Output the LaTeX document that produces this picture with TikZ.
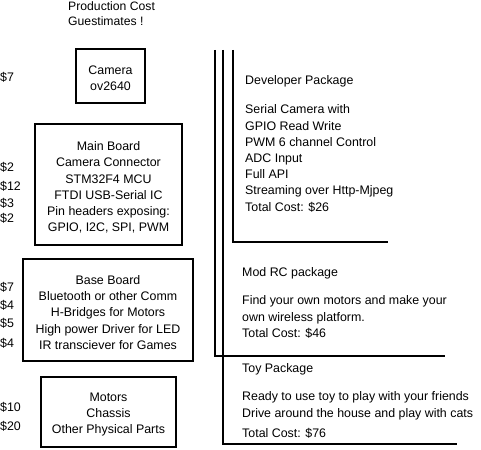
\documentclass[tikz,border=0pt]{standalone}
\usepackage{fontspec}
\setmainfont{Liberation Sans}
\usetikzlibrary{positioning}

\tikzset{
  part/.style={draw, line width=1.6pt, inner sep=0pt},
  parttext/.style={align=center, inner sep=0pt},
  cost/.style={anchor=west, inner sep=0pt},
  pkg/.style={anchor=north west, align=left, inner sep=0pt},
  bracket/.style={line width=1.6pt},
}

\begin{document}
\begin{tikzpicture}[x=1pt, y=-1pt, font=\fontsize{12.4}{16.2}\selectfont]

    % Fix the page size
    \useasboundingbox (0,0) rectangle (481,449);

    % Title
    \node[pkg, font=\fontsize{12.2}{15}\selectfont] (title) at (68,1.5) {Production Cost\\Guestimates !};

    % Parts
    \node[part, minimum width=69pt, minimum height=54pt] (camera) at (110.5,76) {};
    \node[parttext] (camera text) at ([yshift=-2.5pt]camera.center) {Camera\\ov2640};
    \node[part, minimum width=147pt, minimum height=121pt] (mainboard) at (108.5,184.5) {};
    \node[parttext] (mainboard text) at ([yshift=-3pt]mainboard.center)
        {Main Board\\Camera Connector\\STM32F4 MCU\\FTDI USB-Serial IC\\Pin headers exposing:\\GPIO, I2C, SPI, PWM};
    \node[part, minimum width=170pt, minimum height=102pt] (baseboard) at (108,310) {};
    \node[parttext] (baseboard text) at ([yshift=-2.5pt]baseboard.center)
        {Base Board\\Bluetooth or other Comm\\H-Bridges for Motors\\High power Driver for LED\\IR transciever for Games};
    \node[part, minimum width=135pt, minimum height=70pt] (motors) at (108.5,412) {};
    \node[parttext] (motors text) at ([yshift=-2.5pt]motors.center)
        {Motors\\Chassis\\Other Physical Parts};

    % Costs
    \foreach \y/\c [count=\i] in {77/7, 167/2, 186/12, 203/3, 218/2, 287/7, 305/4, 323/5, 343/4, 407/10, 426/20}
        \node[cost] (cost\i) at (0,\y) {\$\c};

    % Package brackets
    \draw[bracket] (215,50) -- (215,356) -- (445,356); % Mod RC
    \draw[bracket] (223,50) -- (223,444) -- (457,444); % Toy
    \draw[bracket] (233,50) -- (233,242) -- (388,242); % Developer

    % Packages
    \node[pkg] (devpkg) at (245,75.5) {Developer Package\\[13pt]Serial Camera with\\GPIO Read Write\\PWM 6 channel Control\\ADC Input\\Full API\\Streaming over Http-Mjpeg\\Total Cost: \$26};
    \node[pkg] (modpkg) at (242,267.5) {Mod RC package\\[12pt]Find your own motors and make your\\own wireless platform.\\Total Cost: \$46};
    \node[pkg] (toypkg) at (242,363.5) {Toy Package\\[12pt]Ready to use toy to play with your friends\\Drive around the house and play with cats\\[4pt]Total Cost: \$76};

\end{tikzpicture}
\end{document}
